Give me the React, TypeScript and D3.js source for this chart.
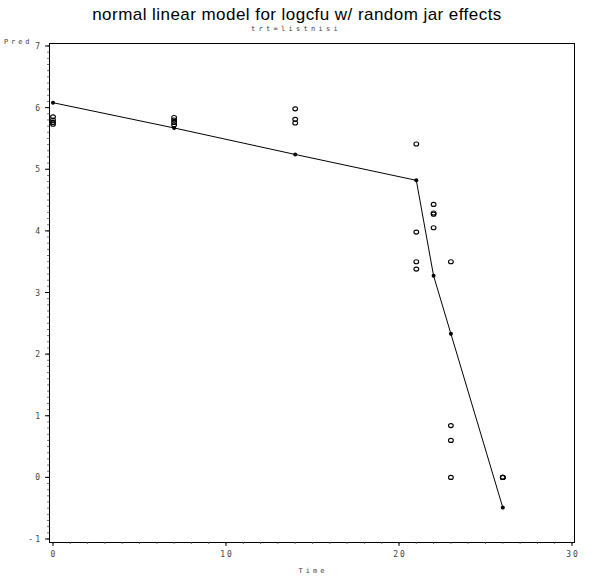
import { useRef, useEffect } from "react";
import * as d3 from "d3";

// fitted values (filled dots joined by the line)
const fitTime = [0, 7, 14, 21, 22, 23, 26];
const fitPred = [6.08, 5.67, 5.24, 4.82, 3.27, 2.33, -0.49];

// observed logcfu (open circles)
const obsTime = [0, 0, 0, 0, 7, 7, 7, 7, 14, 14, 14, 21, 21, 21, 21, 22, 22, 22, 22, 23, 23, 23, 23, 26, 26, 26];
const obsLogcfu = [5.85, 5.8, 5.76, 5.73, 5.84, 5.8, 5.76, 5.72, 5.98, 5.81, 5.75, 5.41, 3.98, 3.5, 3.38, 4.43, 4.29, 4.27, 4.05, 3.5, 0.84, 0.6, 0.0, 0.0, 0.0, 0.0];

const xTicks = [0, 10, 20, 30];
const yTicks = [-1, 0, 1, 2, 3, 4, 5, 6, 7];

const W = 594;
const H = 579;

export default function App() {
    const svgRef = useRef<SVGSVGElement | null>(null);

    useEffect(() => {
        if (!svgRef.current) return;
        const svg = d3.select(svgRef.current);
        svg.selectAll("*").remove();

        const x = d3.scaleLinear().domain([0, 30]).range([53, 572]);
        const y = d3.scaleLinear().domain([-1, 7]).range([539, 46]);

        const frame = { left: 49, right: 574, top: 43, bottom: 542 };
        const mono = "'DejaVu Sans Mono', monospace";

        // title
        svg.append("text")
            .attr("x", 297).attr("y", 20)
            .attr("text-anchor", "middle")
            .attr("font-family", "'Liberation Sans', Arial, sans-serif")
            .attr("font-size", 17)
            .attr("letter-spacing", 0.45)
            .text("normal linear model for logcfu w/ random jar effects");

        svg.append("text")
            .attr("x", 296).attr("y", 31)
            .attr("text-anchor", "middle")
            .attr("font-family", mono)
            .attr("font-size", 7)
            .attr("letter-spacing", 3.3)
            .attr("fill", "#444")
            .text("trt=listnisi");

        // frame
        svg.append("rect")
            .attr("x", frame.left).attr("y", frame.top)
            .attr("width", frame.right - frame.left)
            .attr("height", frame.bottom - frame.top)
            .attr("fill", "none")
            .attr("stroke", "#000")
            .attr("stroke-width", 1)
            .attr("shape-rendering", "crispEdges");

        // y axis minor ticks (every 0.1)
        const yMinor = d3.range(-10, 71).map(d => d / 10);
        svg.append("g")
            .selectAll("line")
            .data(yMinor)
            .enter()
            .append("line")
            .attr("x1", frame.left - 2).attr("x2", frame.left)
            .attr("y1", d => y(d)).attr("y2", d => y(d))
            .attr("stroke", "#555")
            .attr("stroke-width", 0.8);

        const yAxis = svg.append("g");
        yAxis.selectAll("line")
            .data(yTicks)
            .enter()
            .append("line")
            .attr("x1", frame.left - 4).attr("x2", frame.left)
            .attr("y1", d => y(d)).attr("y2", d => y(d))
            .attr("stroke", "#000");
        yAxis.selectAll("text")
            .data(yTicks)
            .enter()
            .append("text")
            .attr("x", frame.left - 7)
            .attr("y", d => y(d) + 3)
            .attr("text-anchor", "end")
            .attr("font-family", mono)
            .attr("font-size", 8)
            .attr("letter-spacing", 2)
            .attr("fill", "#444")
            .text(d => String(d));

        // x axis minor ticks (every 1)
        const xMinor = d3.range(0, 31);
        svg.append("g")
            .selectAll("line")
            .data(xMinor)
            .enter()
            .append("line")
            .attr("x1", d => x(d)).attr("x2", d => x(d))
            .attr("y1", frame.bottom).attr("y2", frame.bottom + 2)
            .attr("stroke", "#555")
            .attr("stroke-width", 0.8);

        const xAxis = svg.append("g");
        xAxis.selectAll("line")
            .data(xTicks)
            .enter()
            .append("line")
            .attr("x1", d => x(d)).attr("x2", d => x(d))
            .attr("y1", frame.bottom).attr("y2", frame.bottom + 4)
            .attr("stroke", "#000");
        xAxis.selectAll("text")
            .data(xTicks)
            .enter()
            .append("text")
            .attr("x", d => x(d) + 1)
            .attr("y", 557)
            .attr("text-anchor", "middle")
            .attr("font-family", mono)
            .attr("font-size", 8)
            .attr("letter-spacing", 2)
            .attr("fill", "#444")
            .text(d => String(d));

        // axis labels
        svg.append("text")
            .attr("x", 4).attr("y", 44)
            .attr("font-family", mono)
            .attr("font-size", 7)
            .attr("letter-spacing", 2.9)
            .attr("fill", "#444")
            .text("Pred");
        svg.append("text")
            .attr("x", 313).attr("y", 573)
            .attr("text-anchor", "middle")
            .attr("font-family", mono)
            .attr("font-size", 7)
            .attr("letter-spacing", 3)
            .attr("fill", "#444")
            .text("Time");

        // fitted line
        const fit = fitTime.map((t, i) => [t, fitPred[i]] as [number, number]);
        svg.append("path")
            .datum(fit)
            .attr("d", d3.line<[number, number]>().x(d => x(d[0])).y(d => y(d[1])))
            .attr("fill", "none")
            .attr("stroke", "#000")
            .attr("stroke-width", 1);

        svg.append("g")
            .selectAll("circle")
            .data(fit)
            .enter()
            .append("circle")
            .attr("cx", d => x(d[0]))
            .attr("cy", d => y(d[1]))
            .attr("r", 2)
            .attr("fill", "#000");

        // observed
        svg.append("g")
            .selectAll("ellipse")
            .data(obsTime.map((t, i) => [t, obsLogcfu[i]]))
            .enter()
            .append("ellipse")
            .attr("cx", d => x(d[0]))
            .attr("cy", d => y(d[1]))
            .attr("rx", 2.4)
            .attr("ry", 2)
            .attr("fill", "none")
            .attr("stroke", "#000")
            .attr("stroke-width", 1.1);
    }, []);

    return (
        <svg ref={svgRef} width={W} height={H}
            style={{ position: "absolute", left: 0, top: 0, background: "#fff" }} />
    );
}
